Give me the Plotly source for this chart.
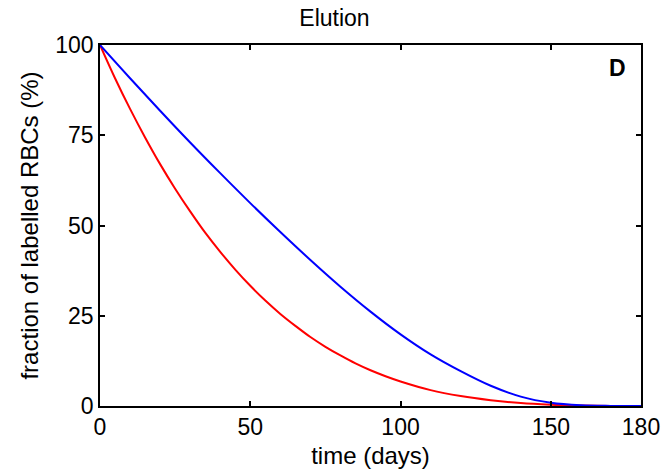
import plotly.graph_objects as go

# values
red_days = [0, 5, 10, 15, 20, 25, 30, 35, 40, 45, 50, 55, 60, 65, 70, 75, 80, 85, 90, 95,
            100, 110, 120, 130, 140, 150, 160, 170, 180]
red_vals = [100, 90.8, 82.3, 74.4, 67.0, 60.2, 53.9, 48.0, 42.7, 37.8, 33.3, 29.2, 25.5, 22.2,
            19.1, 16.4, 14.0, 11.8, 9.9, 8.25, 6.8, 4.4, 2.75, 1.6, 0.8, 0.37, 0.13, 0.03, 0]

blue_days = [0, 10, 20, 30, 40, 50, 60, 70, 80, 90, 100, 110, 120, 130, 140, 150, 160, 170, 180]
blue_vals = [100, 90.8, 81.8, 73.0, 64.5, 56.2, 48.2, 40.45, 33.05, 26.15, 19.85, 14.3, 9.65,
             5.6, 2.6, 0.9, 0.2, 0.02, 0]

x_ticks = [0, 50, 100, 150, 180]
y_ticks = [0, 25, 50, 75, 100]

FONT = "Liberation Sans, Arial, sans-serif"

fig = go.Figure()
fig.add_trace(go.Scatter(x=red_days, y=red_vals, mode="lines",
                         line=dict(color="#ff0000", width=2, shape="spline", smoothing=1.0),
                         showlegend=False))
fig.add_trace(go.Scatter(x=blue_days, y=blue_vals, mode="lines",
                         line=dict(color="#0000ff", width=2, shape="spline", smoothing=1.0),
                         showlegend=False))

fig.add_annotation(x=172.3, y=93.5, xref="x", yref="y", text="<b>D</b>", showarrow=False,
                   font=dict(family=FONT, size=23, color="black"))

fig.update_layout(
    width=669, height=473,
    margin=dict(l=100, r=28, t=45, b=67, autoexpand=False),
    paper_bgcolor="white", plot_bgcolor="white",
    font=dict(family=FONT, size=23, color="black"),
    title=dict(text="Elution", x=0.5, xanchor="center", y=0.963, yanchor="middle",
               font=dict(family=FONT, size=23, color="black")),
)
fig.update_xaxes(range=[0, 180], tickvals=x_ticks, ticktext=[str(v) for v in x_ticks],
                 ticks="inside", ticklen=5, tickwidth=1.5, tickcolor="black",
                 tickfont=dict(size=23), automargin=False,
                 showline=True, linecolor="black", linewidth=1.5, mirror="ticks",
                 showgrid=False, zeroline=False,
                 title=dict(text="time (days)", standoff=8, font=dict(size=24)))
fig.update_yaxes(range=[0, 100], tickvals=y_ticks, ticktext=[str(v) for v in y_ticks],
                 ticks="inside", ticklen=5, tickwidth=1.5, tickcolor="black",
                 tickfont=dict(size=23), automargin=False,
                 showline=True, linecolor="black", linewidth=1.5, mirror="ticks",
                 showgrid=False, zeroline=False,
                 title=dict(text="fraction of labelled RBCs (%)", standoff=10, font=dict(size=24)))

fig.write_html("out.html")
